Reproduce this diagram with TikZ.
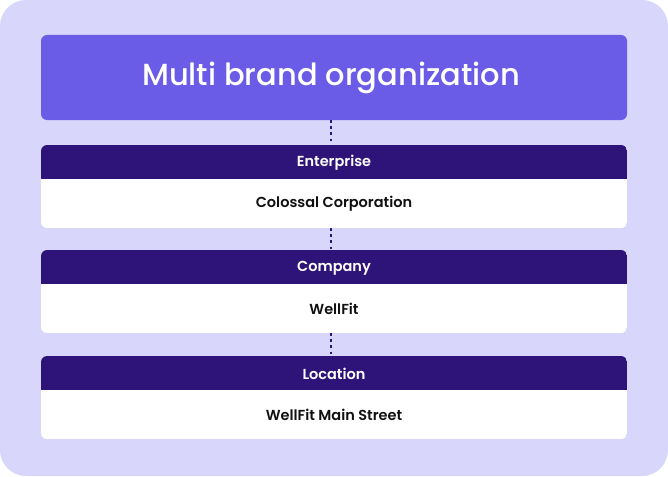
\documentclass[tikz,border=0pt]{standalone}
\usepackage{fontspec}
\setmainfont{Poppins}
\newfontfamily\titlefont{Poppins}[UprightFont={* Medium}]
\newfontfamily\labelfont{Poppins}[UprightFont={* SemiBold}]
\definecolor{bgc}{HTML}{D8D6FB}
\definecolor{topc}{HTML}{6B5CE7}
\definecolor{headc}{HTML}{2E1478}
\definecolor{txtc}{HTML}{111111}
\begin{document}
\begin{tikzpicture}[x=1pt,y=-1pt,
  topbox/.style={fill=topc, rounded corners=6pt},
  headtxt/.style={text=white, font=\labelfont\fontsize{14.5}{16}\selectfont},
  bodytxt/.style={text=txtc, font=\labelfont\fontsize{14.5}{16}\selectfont},
  dotline/.style={draw=headc, line width=2.8pt, dash pattern=on 2.8pt off 3.4pt}]
\useasboundingbox (0,0) rectangle (668,476);
\fill[bgc, rounded corners=26pt] (0,0) rectangle (668,476);
% top box
\fill[topbox] (41,35) rectangle (627,120);
\node[text=white, font=\titlefont\fontsize{30.5}{34}\selectfont] (top) at (331,77.5) {Multi brand organization};
\coordinate (topb) at (331,120);
% level boxes
\foreach \n/\y/\h/\b in {ent/145/Enterprise/Colossal Corporation, com/250/Company/WellFit, loc/356/Location/WellFit Main Street}{
  \begin{scope}
  \clip[rounded corners=6pt] (41,\y) rectangle (627,\y+83);
  \fill[white] (41,\y) rectangle (627,\y+83);
  \fill[headc] (41,\y) rectangle (627,\y+34);
  \end{scope}
  \node[headtxt] (\n h) at (334,\y+18) {\h};
  \node[bodytxt] (\n b) at (334,\y+59) {\b};
  \coordinate (\n t) at (331,\y);
  \coordinate (\n e) at (331,\y+83);
}
\draw[dotline] (topb) -- (entt);
\draw[dotline] (ente) -- (comt);
\draw[dotline] (come) -- (loct);
\end{tikzpicture}
\end{document}
